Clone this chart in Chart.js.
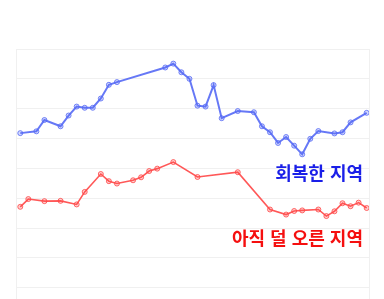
<!DOCTYPE html>
<html lang="ko">
<head>
    <meta charset="UTF-8">
    <title>회복한 지역 / 아직 덜 오른 지역</title>
    <script src="https://cdn.jsdelivr.net/npm/chart.js"></script>
    <style>
        html, body { margin: 0; padding: 0; overflow: hidden; background: #fff; }
        .wrap { position: relative; width: 384px; height: 330px; }
        .label {
            position: absolute;
            right: 21px;
            font-family: "Noto Sans CJK KR", "Noto Sans", sans-serif;
            font-weight: 700;
            font-size: 18px;
            line-height: 20px;
            white-space: nowrap;
        }
        #lbl-blue { top: 162px; color: #1a1fe8; }
        #lbl-red { top: 227px; color: #f50f0f; }
    </style>
</head>
<body>
    <div class="wrap">
        <canvas id="myChart"></canvas>
        <div class="label" id="lbl-blue">회복한 지역</div>
        <div class="label" id="lbl-red">아직 덜 오른 지역</div>
    </div>

    <script>
        // recovered regions (blue)
        const blueX = [0, 2, 3, 5, 6, 7, 8, 9, 10, 11, 12, 18, 19, 20, 21, 22, 23, 24, 25, 27, 29, 30, 31, 32, 33, 34, 35, 36, 37, 39, 40, 41, 43];
        const blueY = [51.8, 52.4, 56.2, 54.1, 57.7, 60.7, 60.3, 60.3, 63.4, 68.0, 68.9, 73.8, 75.1, 72.2, 70.0, 61.0, 60.7, 67.9, 56.8, 59.2, 58.8, 54.1, 52.1, 48.5, 50.5, 47.6, 44.7, 49.9, 52.5, 51.7, 52.1, 55.4, 58.6];

        // regions not yet risen (red)
        const redX = [0, 1, 3, 5, 7, 8, 10, 11, 12, 14, 15, 16, 17, 19, 22, 27, 31, 33, 34, 35, 37, 38, 39, 40, 41, 42, 43];
        const redY = [27.1, 29.7, 29.0, 29.1, 27.9, 32.1, 38.1, 35.7, 34.9, 36.0, 37.0, 39.1, 39.9, 42.1, 37.1, 38.7, 26.2, 24.5, 25.7, 25.9, 26.2, 24.0, 25.6, 28.3, 27.3, 28.5, 26.7];

        const gridColor = "rgba(0, 0, 0, 0.06)";

        function toPoints(xs, ys) {
            return xs.map((x, i) => ({ x: x, y: ys[i] }));
        }

        const ctx = document.getElementById("myChart").getContext("2d");

        new Chart(ctx, {
            type: "line",
            data: {
                datasets: [
                    {
                        label: "회복한 지역",
                        data: toPoints(blueX, blueY),
                        borderColor: "rgba(85, 105, 245, 0.9)",
                        backgroundColor: "rgba(85, 105, 245, 0.25)",
                        pointBackgroundColor: "rgba(85, 105, 245, 0.25)",
                        pointBorderColor: "rgba(85, 105, 245, 0.8)",
                        borderWidth: 2,
                        pointRadius: 2.5,
                        pointBorderWidth: 1,
                        tension: 0,
                        fill: false
                    },
                    {
                        label: "아직 덜 오른 지역",
                        data: toPoints(redX, redY),
                        borderColor: "rgba(255, 70, 70, 0.9)",
                        backgroundColor: "rgba(255, 70, 70, 0.25)",
                        pointBackgroundColor: "rgba(255, 70, 70, 0.25)",
                        pointBorderColor: "rgba(255, 70, 70, 0.8)",
                        borderWidth: 1.6,
                        pointRadius: 2.5,
                        pointBorderWidth: 1,
                        tension: 0,
                        fill: false
                    }
                ]
            },
            options: {
                responsive: true,
                maintainAspectRatio: false,
                animation: false,
                layout: { padding: { top: 49, left: 16, right: 15, bottom: 12.5 } },
                plugins: {
                    legend: { display: false },
                    tooltip: { enabled: false }
                },
                scales: {
                    x: {
                        type: "linear",
                        display: false,
                        min: -0.53,
                        max: 43.29
                    },
                    y: {
                        min: -10,
                        max: 80,
                        ticks: { display: false, stepSize: 10 },
                        grid: { color: gridColor, drawTicks: false },
                        border: { color: gridColor }
                    },
                    y2: {
                        position: "right",
                        ticks: { display: false },
                        grid: { drawOnChartArea: false, drawTicks: false },
                        border: { color: gridColor }
                    }
                }
            }
        });
    </script>
</body>
</html>
